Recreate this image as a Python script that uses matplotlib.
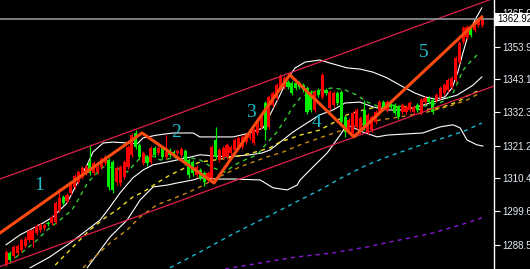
import matplotlib
matplotlib.use('Agg')
import matplotlib.pyplot as plt
import matplotlib.transforms as mtransforms

# ---- candles (price) ----
opens = [1282.2, 1285.8, 1284.8, 1285.8, 1286.8, 1288.1, 1290.1, 1290.1, 1292.4, 1293.4,
         1294.1, 1295.7, 1295.7, 1296.0, 1300.0, 1304.3, 1303.0, 1305.6, 1307.6, 1309.2,
         1310.9, 1312.2, 1315.8, 1312.2, 1312.5, 1314.2, 1315.5, 1316.5, 1315.8, 1309.2,
         1308.9, 1310.9, 1314.2, 1318.2, 1325.4, 1321.5, 1315.5, 1317.5, 1315.8, 1320.5,
         1318.8, 1320.5, 1317.5, 1319.8, 1319.1, 1318.8, 1318.2, 1319.5, 1316.5, 1315.8,
         1311.5, 1313.2, 1312.2, 1309.9, 1310.6, 1323.1, 1316.5, 1317.5, 1317.5, 1318.8,
         1319.8, 1320.5, 1320.8, 1322.4, 1323.8, 1322.1, 1325.4, 1327.4, 1335.3, 1327.4,
         1334.6, 1336.9, 1340.3, 1340.6, 1342.2, 1341.9, 1341.9, 1341.9, 1341.2, 1340.3,
         1338.9, 1333.0, 1339.6, 1337.3, 1339.6, 1333.7, 1334.6, 1338.6, 1338.9, 1330.7,
         1326.4, 1325.4, 1327.4, 1325.7, 1333.0, 1325.7, 1326.4, 1329.0, 1332.0, 1335.6,
         1333.0, 1335.3, 1334.6, 1334.0, 1332.3, 1332.3, 1333.0, 1332.3, 1334.6, 1332.0,
         1335.6, 1337.0, 1336.3, 1336.3, 1337.3, 1338.6, 1339.6, 1340.6, 1342.9, 1348.8,
         1355.4, 1357.1, 1360.1, 1359.4, 1361.1, 1361.1]
closes = [1286.1, 1283.5, 1287.8, 1288.1, 1290.1, 1290.4, 1293.1, 1293.4, 1294.7, 1295.1,
          1295.1, 1295.4, 1297.7, 1302.3, 1304.0, 1302.3, 1305.0, 1308.9, 1311.2, 1312.5,
          1313.9, 1314.2, 1312.2, 1315.5, 1314.2, 1316.8, 1317.5, 1307.6, 1306.6, 1313.9,
          1314.2, 1315.8, 1320.8, 1324.7, 1320.8, 1317.5, 1318.8, 1315.5, 1320.5, 1318.2,
          1320.5, 1317.5, 1319.1, 1318.2, 1318.2, 1319.5, 1320.1, 1315.5, 1311.5, 1312.2,
          1314.2, 1310.6, 1309.2, 1312.2, 1320.8, 1317.5, 1319.8, 1320.5, 1321.5, 1320.8,
          1323.1, 1323.8, 1324.1, 1324.7, 1325.7, 1326.4, 1329.7, 1331.4, 1326.4, 1337.3,
          1338.6, 1341.2, 1343.9, 1343.6, 1340.6, 1338.6, 1340.3, 1340.6, 1339.6, 1332.3,
          1333.0, 1338.9, 1337.9, 1344.6, 1338.6, 1338.9, 1338.6, 1335.3, 1329.0, 1325.7,
          1329.7, 1332.0, 1333.0, 1330.4, 1327.4, 1331.4, 1330.7, 1332.3, 1335.6, 1333.7,
          1335.6, 1334.0, 1332.0, 1330.7, 1334.6, 1334.0, 1335.3, 1334.0, 1333.0, 1336.3,
          1337.0, 1335.6, 1332.3, 1337.9, 1340.3, 1341.2, 1342.9, 1343.6, 1350.2, 1355.1,
          1360.1, 1360.4, 1357.8, 1361.1, 1362.7, 1362.92]
highs = [1286.8, 1286.5, 1288.5, 1288.8, 1290.8, 1291.4, 1293.7, 1294.1, 1295.4, 1295.7,
         1295.7, 1296.4, 1298.4, 1303.0, 1307.3, 1305.0, 1305.6, 1309.6, 1311.9, 1313.2,
         1314.5, 1314.9, 1321.5, 1316.2, 1314.9, 1317.5, 1318.2, 1317.2, 1316.5, 1314.5,
         1314.9, 1316.5, 1321.5, 1325.4, 1326.4, 1322.1, 1319.5, 1318.2, 1321.1, 1321.1,
         1321.1, 1321.1, 1324.7, 1320.5, 1319.8, 1320.1, 1320.8, 1320.1, 1317.2, 1316.5,
         1314.9, 1313.9, 1312.9, 1312.9, 1321.5, 1327.4, 1320.5, 1321.1, 1322.1, 1321.5,
         1323.8, 1324.4, 1324.7, 1325.4, 1326.4, 1327.1, 1330.4, 1332.0, 1336.0, 1337.9,
         1339.3, 1341.9, 1344.9, 1344.2, 1342.9, 1342.6, 1342.6, 1342.6, 1341.9, 1340.9,
         1339.6, 1339.6, 1340.3, 1345.2, 1340.3, 1339.6, 1339.3, 1339.3, 1339.6, 1331.4,
         1330.4, 1332.7, 1333.7, 1331.0, 1336.3, 1332.0, 1331.4, 1333.0, 1336.3, 1336.3,
         1336.3, 1336.0, 1335.3, 1334.6, 1335.3, 1334.6, 1336.0, 1334.6, 1335.3, 1337.0,
         1337.6, 1337.6, 1337.0, 1338.6, 1340.9, 1341.9, 1343.6, 1344.2, 1350.8, 1355.8,
         1360.7, 1361.1, 1360.7, 1361.7, 1363.4, 1363.7]
lows = [1281.5, 1282.5, 1284.2, 1285.2, 1286.1, 1287.5, 1289.4, 1287.8, 1291.7, 1292.7,
        1293.4, 1294.7, 1295.1, 1295.4, 1299.3, 1301.7, 1302.3, 1305.0, 1306.9, 1308.6,
        1310.2, 1311.5, 1311.5, 1311.5, 1311.9, 1313.5, 1314.9, 1306.6, 1305.6, 1308.2,
        1307.9, 1310.2, 1313.5, 1317.5, 1320.1, 1316.8, 1314.9, 1314.5, 1315.2, 1317.5,
        1318.2, 1316.8, 1316.8, 1317.5, 1317.5, 1318.2, 1317.5, 1314.9, 1310.6, 1311.2,
        1310.9, 1309.9, 1307.9, 1309.2, 1309.9, 1316.8, 1315.8, 1316.8, 1316.8, 1318.2,
        1319.1, 1319.8, 1320.1, 1321.8, 1323.1, 1321.5, 1324.7, 1326.7, 1323.1, 1326.7,
        1334.0, 1336.3, 1339.6, 1339.9, 1339.9, 1337.9, 1339.6, 1339.9, 1338.9, 1331.7,
        1332.3, 1332.3, 1337.3, 1336.6, 1337.9, 1333.0, 1334.0, 1334.6, 1328.4, 1324.1,
        1325.7, 1324.7, 1326.7, 1325.1, 1326.4, 1325.1, 1325.7, 1328.4, 1331.4, 1333.0,
        1332.3, 1333.3, 1331.4, 1330.0, 1331.7, 1331.7, 1332.3, 1331.7, 1332.3, 1331.4,
        1335.0, 1335.0, 1331.7, 1335.6, 1336.6, 1337.9, 1338.9, 1339.9, 1342.2, 1348.2,
        1354.8, 1356.4, 1357.1, 1358.7, 1360.4, 1360.4]

# ---- bollinger bands (bar index, price) ----
bb_up_x = [0, 3.7, 9.7, 12.3, 16.0, 19.4, 21.3, 22.8, 25.5, 28.1, 31.8, 34.4, 36.0, 39.6,
           43.8, 49.1, 50.9, 59.6, 64.0, 67.5, 69.3, 71.9, 74.0, 75.9, 78.5, 82.4, 85.0,
           89.5, 92.9, 96.3, 100.0, 103.4, 107.3, 110.0, 112.6, 115.2, 117.1, 118.6,
           120.0, 121.3, 123.1, 124.9]
bb_up = [1288.5, 1291.8, 1295.7, 1297.7, 1302.3, 1310.6, 1314.9, 1319.1, 1322.1, 1322.4,
         1322.1, 1321.8, 1323.8, 1324.7, 1325.4, 1325.4, 1324.1, 1324.1, 1325.4, 1327.1,
         1331.4, 1337.9, 1343.6, 1346.9, 1348.8, 1349.5, 1348.5, 1346.9, 1346.5, 1345.5,
         1343.6, 1341.2, 1338.6, 1337.3, 1336.6, 1337.3, 1340.3, 1345.5, 1352.1, 1357.7,
         1362.7, 1366.7]
bb_mid_x = [6.3, 11.5, 16.8, 21.3, 24.7, 27.3, 29.9, 33.3, 36.0, 38.6, 42.3, 47.5, 50.9,
            58.0, 64.0, 67.2, 69.3, 72.7, 75.3, 79.0, 82.4, 85.8, 89.0, 92.9, 96.3, 100.0,
            104.2, 107.9, 111.3, 113.9, 118.4, 122.6, 124.9]
bb_mid = [1280.9, 1284.5, 1289.1, 1293.4, 1296.7, 1301.0, 1305.6, 1310.6, 1313.2, 1314.9,
          1315.8, 1317.2, 1318.2, 1317.5, 1318.2, 1318.8, 1319.8, 1323.1, 1325.7, 1328.7,
          1331.4, 1333.0, 1335.3, 1335.6, 1334.0, 1333.0, 1333.0, 1334.0, 1335.3, 1336.3,
          1337.9, 1341.2, 1343.9]
bb_low_x = [21.3, 27.3, 31.8, 35.2, 38.6, 42.3, 44.9, 49.1, 50.9, 55.4, 59.6, 66.7, 70.1,
            73.8, 76.4, 77.2, 79.8, 84.3, 87.7, 89.5, 93.7, 97.4, 100.0, 105.2, 109.4,
            113.9, 117.3, 119.2, 121.0, 123.6, 125.2]
bb_low = [1280.9, 1291.1, 1296.7, 1303.3, 1307.6, 1308.2, 1308.9, 1309.9, 1310.6, 1310.2,
          1310.2, 1309.9, 1307.3, 1306.6, 1308.2, 1309.9, 1313.2, 1318.8, 1324.7, 1328.1,
          1325.7, 1324.1, 1324.7, 1325.1, 1325.4, 1327.4, 1328.1, 1327.1, 1323.1, 1321.5,
          1321.1]

# ---- moving averages ----
ma_green_x = [2.4, 7.6, 10.8, 14.2, 17.3, 18.9, 21.5, 23.9, 25.5, 28.6, 31.8, 35.2, 37.8,
              40.4, 44.4, 47.5, 50.9, 54.3, 57.5, 60.1, 62.7, 65.9, 68.5, 71.1, 73.2, 75.3,
              77.2, 79.8, 82.4, 85.8, 89.0, 92.1, 94.8, 98.2, 101.6, 106.0, 110.0, 114.4,
              117.1, 118.6, 120.0, 121.8, 124.4]
ma_green = [1284.2, 1289.4, 1293.4, 1296.7, 1300.0, 1303.3, 1309.2, 1312.2, 1314.2, 1313.9,
            1312.5, 1317.2, 1318.2, 1316.5, 1317.2, 1317.5, 1316.5, 1313.9, 1312.5, 1314.9,
            1316.5, 1318.2, 1322.1, 1325.7, 1329.7, 1334.0, 1337.0, 1338.6, 1339.6, 1340.3,
            1339.6, 1337.9, 1335.6, 1334.0, 1334.6, 1333.7, 1334.3, 1335.6, 1337.9, 1342.2,
            1346.2, 1348.8, 1352.1]
ma_yellow_x = [12.9, 18.1, 22.0, 26.0, 29.1, 33.3, 36.0, 39.6, 43.0, 47.5, 50.9, 54.9, 60.1,
               65.4, 69.3, 71.9, 77.2, 82.4, 85.8, 89.5, 92.9, 96.3, 100.8, 105.2, 109.4,
               113.9, 118.4, 121.0, 124.4]
ma_yellow = [1281.8, 1288.5, 1293.4, 1297.4, 1300.0, 1304.3, 1305.9, 1308.9, 1311.5, 1314.2,
             1315.8, 1316.5, 1317.5, 1319.1, 1320.5, 1322.4, 1324.7, 1326.4, 1328.7, 1331.4,
             1332.7, 1333.7, 1334.0, 1334.0, 1333.0, 1333.7, 1335.6, 1337.6, 1339.6]
ma_brown_x = [20.2, 27.3, 31.8, 35.2, 39.6, 43.0, 47.5, 50.9, 54.3, 58.0, 61.4, 64.8, 68.5,
              72.7, 77.2, 82.4, 87.7, 92.9, 98.2, 103.4, 110.5, 116.5, 121.0, 124.4]
ma_brown = [1280.9, 1289.1, 1293.4, 1297.7, 1301.7, 1303.3, 1305.6, 1307.6, 1309.9, 1312.2,
            1314.2, 1315.8, 1317.5, 1319.1, 1321.5, 1323.8, 1326.1, 1328.1, 1329.7, 1330.7,
            1332.3, 1334.3, 1336.3, 1338.6]
ma_cyan_x = [43.0, 50.9, 59.6, 68.5, 77.2, 82.4, 88.5, 94.8, 100.0, 105.2, 110.5, 115.7,
             121.0, 124.9]
ma_cyan = [1280.9, 1286.1, 1292.1, 1297.7, 1303.3, 1306.6, 1310.9, 1314.9, 1317.5, 1319.8,
           1322.1, 1324.1, 1326.4, 1328.7]
ma_purple_x = [57.5, 66.7, 76.4, 85.8, 94.8, 103.4, 112.1, 121.0, 124.9]
ma_purple = [1280.5, 1282.5, 1284.5, 1285.8, 1287.8, 1290.1, 1292.4, 1295.7, 1297.4]

# ---- drawn objects ----
wave_x = [-1.6, 35.7, 54.6, 74.5, 91.3, 124.9]
wave_y = [1292.4, 1325.4, 1308.9, 1344.6, 1324.1, 1363.7]
wave_labels = ['1', '2', '3', '4', '5']
channel_x = [-1.6, 128.1]
channel_top = [1310.2, 1369.9]
channel_bottom = [1281.3, 1340.9]
last_price = 1362.92
yticks = [1288.50, 1299.60, 1310.40, 1321.20, 1332.30, 1343.10, 1353.90, 1365.00]

fig = plt.figure(figsize=(5.3, 2.69), dpi=100, facecolor='black')
ax = fig.add_axes([0, 0, 494 / 530, 1])
ax.set_facecolor('black')

# bands
for bx, by in [(bb_up_x, bb_up), (bb_mid_x, bb_mid), (bb_low_x, bb_low)]:
    ax.plot(bx, by, color='white', lw=0.8, zorder=2)

# dashed MAs
for mx, my, c in [(ma_green_x, ma_green, '#33cc33'), (ma_yellow_x, ma_yellow, '#f0e020'),
                  (ma_brown_x, ma_brown, '#c88a10'), (ma_cyan_x, ma_cyan, '#18b8cc'),
                  (ma_purple_x, ma_purple, '#8a18d8')]:
    ax.plot(mx, my, color=c, lw=1, dashes=(3, 3), zorder=2)

# candles
for i in range(len(closes)):
    o, c = opens[i], closes[i]
    col = '#ff0000' if c >= o else '#00ee00'
    ax.vlines(i, lows[i], highs[i], color=col, lw=0.9, zorder=3)
    ax.bar(i, max(abs(c - o), 0.35), bottom=min(o, c), width=0.82, color=col,
           edgecolor='none', zorder=3)

# channel and wave count
ax.plot(channel_x, channel_top, color='#e0204a', lw=0.9, zorder=4)
ax.plot(channel_x, channel_bottom, color='#e0204a', lw=0.9, zorder=4)
ax.plot(wave_x, wave_y, color='#ff4a10', lw=2.2, zorder=5)
label_pos = [(8.7, 1307.9), (44.6, 1325.7), (64.3, 1332.0), (81.6, 1329.0), (109.7, 1352.1)]
for t, (lx, ly) in zip(wave_labels, label_pos):
    ax.text(lx, ly, t, color='#1fbccc', fontsize=14, family='Liberation Serif',
            ha='center', va='center', zorder=6)

ax.axhline(last_price, color='#8c949c', lw=1.2, zorder=4)

ax.set_xlim(-1.6, 128.1)
ax.set_ylim(1280.5, 1369.3)
ax.set_xticks([])
ax.yaxis.tick_right()
ax.set_yticks(yticks)
ax.set_yticklabels(['%.2f' % v for v in yticks])
ax.tick_params(axis='y', colors='white', length=4, width=0.8, pad=2, labelsize=7,
               labelcolor='#e6eef6')
for lab in ax.get_yticklabels():
    lab.set_family('Liberation Sans')
for s in ['left', 'top', 'bottom']:
    ax.spines[s].set_visible(False)
ax.spines['right'].set_color('white')
ax.spines['right'].set_linewidth(1)

trans = mtransforms.blended_transform_factory(ax.transAxes, ax.transData)
ax.text(1.006, last_price, '%.2f' % last_price, transform=trans, color='black',
        fontsize=7, family='Liberation Sans', va='center',
        ha='left', clip_on=False, zorder=10,
        bbox=dict(facecolor='white', edgecolor='none', pad=1.2))

fig.savefig('out.png', dpi=100, facecolor='black')
